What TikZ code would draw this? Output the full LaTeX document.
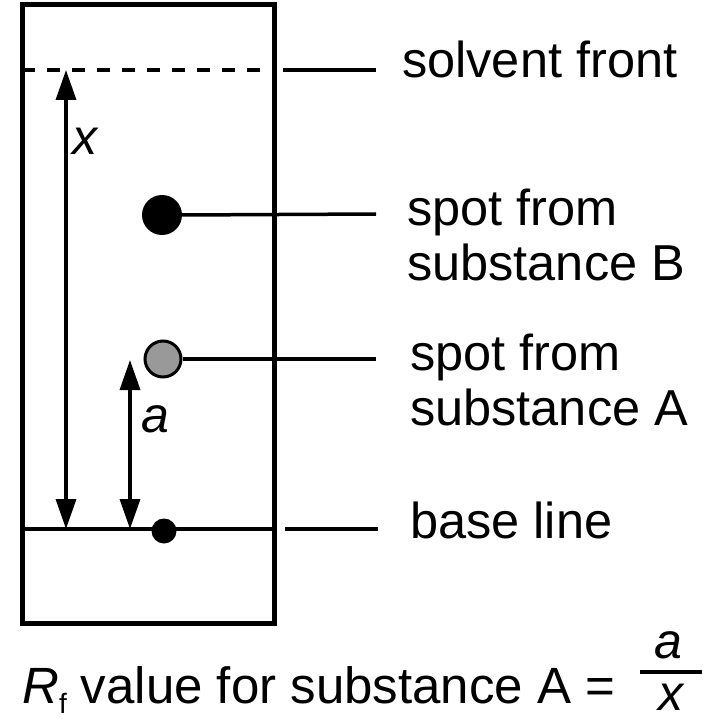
\documentclass[tikz,border=0pt]{standalone}
\usepackage{fontspec}
\setmainfont{Liberation Sans}
\usetikzlibrary{arrows.meta}
\begin{document}
\begin{tikzpicture}[x=1pt,y=-1pt,
  lbl/.style={font=\fontsize{50.5}{55}\selectfont, anchor=base west, inner sep=0pt, align=left},
  symlbl/.style={font=\fontsize{50}{55}\selectfont\itshape, inner sep=0pt},
  leader/.style={line width=3.5pt},
  frame/.style={line width=5pt},
  frontline/.style={line width=4.5pt, dash pattern=on 13pt off 12pt},
  dimarrow/.style={line width=3.5pt, {Triangle[width=20pt,length=30pt]}-{Triangle[width=20pt,length=30pt]}},
  spot/.style={circle, inner sep=0pt},
]
\useasboundingbox (0,0) rectangle (702,719);

% plate
\coordinate (plateNW) at (22,5);
\coordinate (plateSE) at (274,623);
\draw[frame] (plateNW) rectangle (plateSE);

% solvent front
\coordinate (sfL) at (22,70);
\coordinate (sfR) at (274,70);
\draw[frontline] (sfL) -- (sfR);
\coordinate (sfLeadA) at (283,70);
\coordinate (sfLeadB) at (376,70);
\draw[leader] (sfLeadA) -- (sfLeadB);
\node[lbl] (sfT) at (402,78) {solvent front};

% base line
\coordinate (blL) at (22,529);
\coordinate (blR) at (274,529);
\draw[line width=4pt] (blL) -- (blR);
\coordinate (blLeadA) at (285,529);
\coordinate (blLeadB) at (378,529);
\draw[leader] (blLeadA) -- (blLeadB);
\node[lbl] (blT) at (410,538) {base line};

% spots
\node[spot, fill=black, minimum size=40pt] (spotB) at (162,215) {};
\coordinate (spotBLead) at (376,214);
\draw[leader] (spotB.east) -- (spotBLead);
\node[lbl] (spotBT) at (407,280) {spot from\\substance B};

\node[spot, fill=black!40, draw=black, line width=3pt, minimum size=36pt] (spotA) at (163,359) {};
\coordinate (spotALead) at (376,359);
\draw[leader] (spotA.east) -- (spotALead);
\node[lbl] (spotAT) at (410,425) {spot from\\substance A};

\node[spot, fill=black, minimum size=25pt] (origin) at (164,531) {};

% distance arrows
\coordinate (xTop) at (66,70);
\coordinate (xBot) at (66,529);
\draw[dimarrow] (xTop) -- (xBot);
\node[symlbl] (xL) at (85,141) {x};

\coordinate (aTop) at (130,360);
\coordinate (aBot) at (130,529);
\draw[dimarrow] (aTop) -- (aBot);
\node[symlbl] (aL) at (155,419) {a};

% formula
\node[font=\fontsize{51}{55}\selectfont, anchor=base west, inner sep=0pt] (formula) at (22,703)
  {{\itshape R}\raisebox{-0.2em}{\fontsize{28}{30}\selectfont f} value for substance A =};
\node[symlbl, anchor=base] (fa) at (668,658) {a};
\node[symlbl, anchor=base] (fx) at (671,710) {x};
\coordinate (barL) at (640,672);
\coordinate (barR) at (702,672);
\draw[line width=3.5pt] (barL) -- (barR);
\end{tikzpicture}
\end{document}
